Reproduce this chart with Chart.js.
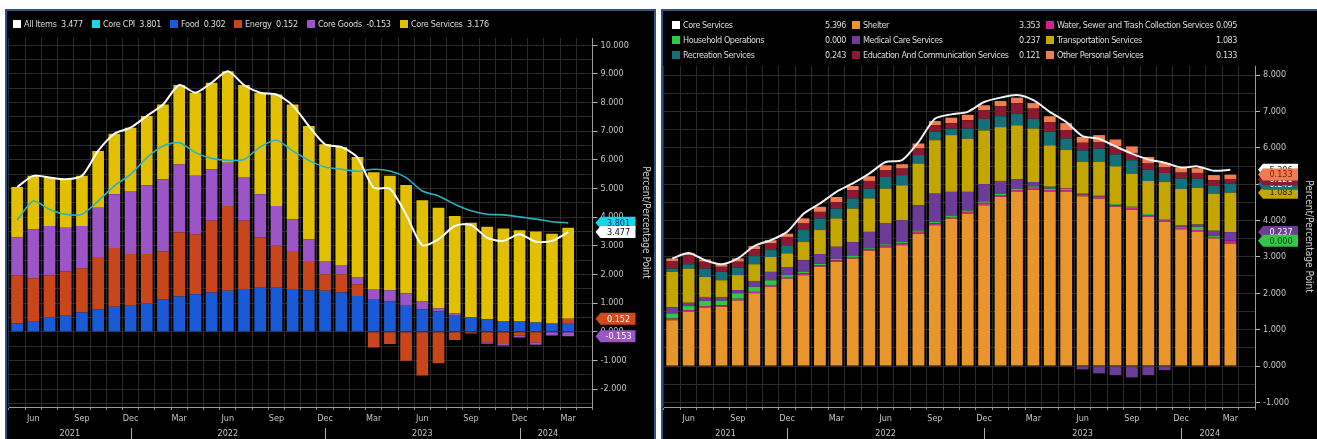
<!DOCTYPE html>
<html>
<head>
<meta charset="utf-8">
<script src="https://cdn.jsdelivr.net/npm/chart.js@4.4.1/dist/chart.umd.min.js"></script>
<style>
  html, body { margin: 0; padding: 0; background: #fff; }
  body { width: 1317px; height: 439px; overflow: hidden; position: relative;
         font-family: "DejaVu Sans Condensed", "Liberation Sans Narrow", "Liberation Sans", sans-serif; }
  .panel { position: absolute; top: 9px; height: 440px; background: #000;
           border: 2px solid #2f5288; box-sizing: border-box; }
  #left { left: 5px; width: 651px; }
  #right { left: 661px; width: 658px; }
  .panel canvas { position: absolute; left: 0; top: 0; }
  .lg { position: absolute; color: #dcdcdc; font-size: 9px; line-height: 10px; white-space: pre; letter-spacing: -0.3px; }
  #right .lg { letter-spacing: -0.45px; }
  .sw { position: absolute; width: 8px; height: 8px; }
</style>
</head>
<body>
<div class="panel" id="left"><canvas id="cpi" width="647" height="430"></canvas></div>
<div class="panel" id="right"><canvas id="svc" width="654" height="430"></canvas></div>
<script>
const FONT = '"DejaVu Sans Condensed", "Liberation Sans Narrow", "Liberation Sans", sans-serif';
Chart.defaults.font.family = FONT;
Chart.defaults.font.size = 9;

// months shown (May 2021 .. Mar 2024)
const periods = [
  '2021-05','2021-06','2021-07','2021-08','2021-09','2021-10','2021-11','2021-12',
  '2022-01','2022-02','2022-03','2022-04','2022-05','2022-06','2022-07','2022-08','2022-09','2022-10','2022-11','2022-12',
  '2023-01','2023-02','2023-03','2023-04','2023-05','2023-06','2023-07','2023-08','2023-09','2023-10','2023-11','2023-12',
  '2024-01','2024-02','2024-03'
];
const monthNames = ['Jan','Feb','Mar','Apr','May','Jun','Jul','Aug','Sep','Oct','Nov','Dec'];

// left panel: CPI contributions (pp)
const allItems = [5.05,5.44,5.38,5.32,5.44,6.31,6.91,7.12,7.53,7.93,8.61,8.34,8.69,9.09,8.61,8.34,8.28,7.90,7.18,6.54,6.45,6.08,5.03,4.99,4.09,3.02,3.23,3.69,3.73,3.28,3.17,3.40,3.14,3.17,3.477];
const coreCpi = [3.89,4.56,4.27,4.10,4.10,4.56,5.09,5.49,6.07,6.48,6.60,6.25,6.05,5.98,6.01,6.45,6.68,6.31,5.98,5.75,5.67,5.60,5.67,5.61,5.38,4.91,4.74,4.45,4.22,4.10,4.08,4.01,3.93,3.84,3.801];
const food = [0.30,0.35,0.50,0.56,0.67,0.79,0.87,0.91,0.99,1.13,1.23,1.31,1.37,1.43,1.49,1.54,1.54,1.49,1.45,1.43,1.37,1.25,1.14,1.06,0.91,0.79,0.71,0.56,0.50,0.44,0.38,0.38,0.32,0.27,0.302];
const energy = [1.67,1.52,1.47,1.54,1.55,1.82,2.05,1.80,1.72,1.67,2.23,2.09,2.50,2.96,2.38,1.75,1.46,1.33,1.02,0.58,0.64,0.41,-0.55,-0.43,-1.01,-1.53,-1.10,-0.29,-0.06,-0.37,-0.43,-0.14,-0.37,0.02,0.152];
const coreGoods = [1.32,1.71,1.72,1.53,1.47,1.72,1.88,2.20,2.40,2.52,2.38,2.04,1.80,1.51,1.53,1.51,1.39,1.11,0.76,0.46,0.32,0.23,0.35,0.39,0.43,0.27,0.10,0.08,0.01,-0.05,-0.05,-0.06,-0.08,-0.13,-0.153];
const coreServices = [1.76,1.86,1.69,1.69,1.75,1.98,2.11,2.21,2.42,2.61,2.77,2.90,3.02,3.19,3.21,3.54,3.89,4.00,3.95,4.07,4.12,4.21,4.08,3.99,3.78,3.53,3.52,3.40,3.29,3.22,3.22,3.16,3.18,3.13,3.176];

// right panel: core services contributions (pp)
const coreSvcTotal = [2.96,3.11,2.91,2.80,2.96,3.30,3.46,3.69,4.19,4.47,4.79,5.02,5.29,5.61,5.66,6.16,6.80,6.92,6.99,7.26,7.38,7.45,7.31,6.99,6.71,6.32,6.25,6.04,5.84,5.68,5.59,5.46,5.49,5.37,5.396];
const shelter = [1.26,1.49,1.61,1.63,1.80,2.00,2.18,2.41,2.50,2.73,2.87,2.96,3.17,3.26,3.32,3.64,3.87,4.06,4.18,4.42,4.65,4.79,4.85,4.79,4.79,4.67,4.61,4.38,4.30,4.10,3.96,3.76,3.69,3.51,3.353];
const waterSewer = [0.05,0.05,0.04,0.04,0.05,0.04,0.05,0.04,0.05,0.04,0.04,0.04,0.04,0.05,0.05,0.05,0.05,0.04,0.06,0.07,0.05,0.05,0.05,0.05,0.05,0.05,0.06,0.04,0.05,0.05,0.05,0.04,0.05,0.04,0.095];
const householdOps = [0.14,0.11,0.14,0.13,0.15,0.14,0.13,0.05,0.05,0.04,0.04,0.04,0.03,0.04,0.04,0.04,0.04,0.04,0.04,0.04,0.04,0.04,0.04,0.04,0.03,0.03,0.03,0.03,0.03,0.03,0.03,0.03,0.09,0.03,0.000];
const medical = [0.16,0.09,0.11,0.10,0.09,0.16,0.23,0.21,0.31,0.27,0.33,0.37,0.45,0.57,0.60,0.69,0.78,0.65,0.51,0.47,0.35,0.25,0.12,0.05,0.01,-0.09,-0.20,-0.25,-0.31,-0.25,-0.11,0.03,0.06,0.14,0.237];
const transportation = [0.98,0.94,0.55,0.46,0.41,0.46,0.41,0.39,0.50,0.66,0.78,0.92,0.92,0.96,0.96,1.15,1.47,1.56,1.46,1.48,1.48,1.49,1.47,1.14,1.06,0.86,0.91,1.04,0.91,0.91,1.02,1.01,1.01,1.02,1.083];
const recreation = [0.09,0.12,0.23,0.23,0.21,0.22,0.19,0.22,0.33,0.32,0.27,0.28,0.27,0.32,0.28,0.23,0.23,0.18,0.28,0.32,0.30,0.32,0.27,0.37,0.32,0.32,0.37,0.33,0.37,0.31,0.25,0.29,0.25,0.21,0.243];
const educationComm = [0.20,0.25,0.19,0.14,0.16,0.19,0.18,0.23,0.18,0.18,0.18,0.23,0.21,0.18,0.18,0.18,0.18,0.15,0.23,0.23,0.27,0.29,0.28,0.27,0.23,0.21,0.18,0.22,0.20,0.17,0.15,0.16,0.16,0.16,0.121];
const otherPersonal = [0.08,0.06,0.06,0.07,0.09,0.09,0.09,0.09,0.14,0.14,0.14,0.11,0.13,0.14,0.12,0.14,0.12,0.15,0.15,0.14,0.15,0.15,0.15,0.16,0.19,0.16,0.19,0.19,0.18,0.18,0.13,0.14,0.13,0.14,0.133];

const labels = periods.concat(['']); // one blank slot before the axis
const last = a => a[a.length - 1];
const isWhole = v => Math.abs(v - Math.round(v)) < 1e-6;

// month / year labels under the x axis
const xLabels = {
  id: 'xLabels',
  afterDraw(chart) {
    const { ctx, chartArea, scales: { x } } = chart;
    ctx.save();
    ctx.fillStyle = '#c4c4c4';
    ctx.strokeStyle = '#b0b0b0';
    ctx.lineWidth = 1;
    ctx.font = '9px ' + FONT;
    ctx.textAlign = 'center';
    ctx.textBaseline = 'middle';
    const yM = chartArea.bottom + 12, yY = chartArea.bottom + 27;
    const seps = [];
    periods.forEach((p, i) => {
      const mo = +p.slice(5);
      const px = x.getPixelForValue(i);
      if (mo % 3 === 0) ctx.fillText(monthNames[mo - 1], px, yM);
      if (mo === 12) seps.push(px);
    });
    const half = (x.getPixelForValue(1) - x.getPixelForValue(0)) / 2;
    const bounds = [chartArea.left].concat(seps, [x.getPixelForValue(periods.length - 1) + half]);
    const firstYear = +periods[0].slice(0, 4);
    for (let k = 0; k < bounds.length - 1; k++) {
      ctx.fillText(String(firstYear + k), (bounds[k] + bounds[k + 1]) / 2, yY);
    }
    seps.forEach(px => {
      ctx.beginPath();
      ctx.moveTo(Math.round(px) + 0.5, yY - 6);
      ctx.lineTo(Math.round(px) + 0.5, yY + 7);
      ctx.stroke();
    });
    ctx.restore();
  }
};

// value tags on the right axis
const tags = {
  id: 'tags',
  afterDraw(chart, args, opts) {
    const { ctx, chartArea } = chart;
    const x0 = chartArea.right + 3;
    const idx = periods.length - 1;
    ctx.save();
    ctx.font = '9px ' + FONT;
    ctx.textAlign = 'center';
    ctx.textBaseline = 'middle';
    opts.items.forEach(t => {
      const el = chart.getDatasetMeta(t.ds).data[idx];
      const y = el.y;
      ctx.fillStyle = t.bg;
      ctx.beginPath();
      ctx.moveTo(x0, y);
      ctx.lineTo(x0 + 5, y - 6);
      ctx.lineTo(x0 + 40, y - 6);
      ctx.lineTo(x0 + 40, y + 6);
      ctx.lineTo(x0 + 5, y + 6);
      ctx.closePath();
      ctx.fill();
      ctx.fillStyle = t.fg;
      ctx.fillText(chart.data.datasets[t.ds].data[idx].toFixed(3), x0 + 23, y + 0.5);
    });
    ctx.restore();
  }
};

function opts(yMin, yMax, yWidth, padLeft, padTop, tagItems) {
  return {
    responsive: false,
    animation: false,
    layout: { padding: { left: padLeft, top: padTop, right: 0, bottom: 0 } },
    datasets: { bar: { barPercentage: 0.72, categoryPercentage: 1.0 } },
    plugins: { legend: { display: false }, tooltip: { enabled: false }, tags: { items: tagItems } },
    scales: {
      x: {
        stacked: true,
        ticks: { display: false },
        grid: { color: '#2b2b2b', offset: true, tickLength: 3, tickColor: '#8a8a8a' },
        border: { color: '#9a9a9a' },
        afterFit: s => { s.height = 34; }
      },
      y: {
        position: 'right',
        stacked: true,
        min: yMin, max: yMax,
        ticks: {
          stepSize: 0.5, autoSkip: false, includeBounds: false,
          color: '#c4c4c4', padding: 3,
          callback: v => isWhole(v) ? Number(v).toFixed(3) : ''
        },
        grid: { color: '#2b2b2b', tickLength: 5, tickColor: c => isWhole(c.tick.value) ? '#b8b8b8' : 'rgba(0,0,0,0)' },
        border: { color: '#9a9a9a' },
        title: { display: true, text: 'Percent/Percentage Point', color: '#cfcfcf', font: { size: 10 }, padding: { top: 2, bottom: 0 } },
        afterFit: s => { s.width = yWidth; }
      }
    }
  };
}

const line = (label, data, color, w, stack) =>
  ({ type: 'line', label, data, borderColor: color, borderWidth: w, pointRadius: 0, tension: 0.25, order: 0, stack });
const bar = (label, data, color) =>
  ({ type: 'bar', label, data, backgroundColor: color, borderWidth: 0, order: 1, stack: 'bars' });

const cpiSeries = [
  line('All Items', allItems, '#ffffff', 2, 'l1'),
  line('Core CPI', coreCpi, '#27b3c2', 1.6, 'l2'),
  bar('Food', food, '#1a5ad6'),
  bar('Energy', energy, '#c9461c'),
  bar('Core Goods', coreGoods, '#9b55c6'),
  bar('Core Services', coreServices, '#e2c000')
];

new Chart(document.getElementById('cpi'), {
  type: 'bar',
  data: { labels, datasets: cpiSeries },
  options: opts(-2.625, 10.25, 61.5, 2, 27, [
    { ds: 1, bg: '#19d6e6', fg: '#06306a' },
    { ds: 0, bg: '#ffffff', fg: '#111111' },
    { ds: 3, bg: '#d2491c', fg: '#ffffff' },
    { ds: 4, bg: '#9b55c6', fg: '#ffffff' }
  ]),
  plugins: [xLabels, tags]
});

const svcSeries = [
  line('Core Services', coreSvcTotal, '#f2f2f2', 2, 'l1'),
  bar('Shelter', shelter, '#e8952c'),
  bar('Water, Sewer and Trash Collection Services', waterSewer, '#c8288e'),
  bar('Household Operations', householdOps, '#2ec846'),
  bar('Medical Care Services', medical, '#6c3c98'),
  bar('Transportation Services', transportation, '#c4a600'),
  bar('Recreation Services', recreation, '#127078'),
  bar('Education And Communication Services', educationComm, '#8c1832'),
  bar('Other Personal Services', otherPersonal, '#f27c52')
];

new Chart(document.getElementById('svc'), {
  type: 'bar',
  data: { labels, datasets: svcSeries },
  options: opts(-1.125, 8.25, 62, 1, 55, [
    { ds: 0, bg: '#ffffff', fg: '#111111' },
    { ds: 5, bg: '#c4a600', fg: '#2a2200' },
    { ds: 6, bg: '#127078', fg: '#ffffff' },
    { ds: 7, bg: '#8c1832', fg: '#ffffff' },
    { ds: 8, bg: '#f27c52', fg: '#7a1a10' },
    { ds: 4, bg: '#6c3c98', fg: '#ffffff' },
    { ds: 3, bg: '#2ec846', fg: '#0a3a10' }
  ]),
  plugins: [xLabels, tags]
});

// legends (HTML, placed in panel coordinates)
function addItem(panel, x, yc, color, name, value, valueRight) {
  const sw = document.createElement('div');
  sw.className = 'sw';
  sw.style.left = x + 'px';
  sw.style.top = (yc - 4) + 'px';
  sw.style.background = color;
  panel.appendChild(sw);
  const t = document.createElement('div');
  t.className = 'lg';
  t.style.left = (x + 11) + 'px';
  t.style.top = (yc - 5) + 'px';
  t.textContent = valueRight === undefined ? name + '  ' + value : name;
  panel.appendChild(t);
  if (valueRight !== undefined) {
    const v = document.createElement('div');
    v.className = 'lg';
    v.style.right = (panel.clientWidth - valueRight) + 'px';
    v.style.top = (yc - 5) + 'px';
    v.textContent = value;
    panel.appendChild(v);
  }
  return t;
}

const leftPanel = document.getElementById('left');
let lx = 6;
cpiSeries.forEach(d => {
  const color = d.type === 'line' ? (d.label === 'Core CPI' ? '#19d6e6' : '#ffffff') : d.backgroundColor;
  const t = addItem(leftPanel, lx, 13, color, d.label, last(d.data).toFixed(3));
  lx += 11 + t.offsetWidth + 9;
});

const rightPanel = document.getElementById('right');
const colX = [9, 189, 383];
const colValRight = [183, 377, 574];
const rowY = [14, 29, 44];
svcSeries.forEach((d, i) => {
  const col = i % 3, row = Math.floor(i / 3);
  const color = d.type === 'line' ? '#ffffff' : d.backgroundColor;
  addItem(rightPanel, colX[col], rowY[row], color, d.label, last(d.data).toFixed(3), colValRight[col]);
});
</script>
</body>
</html>
